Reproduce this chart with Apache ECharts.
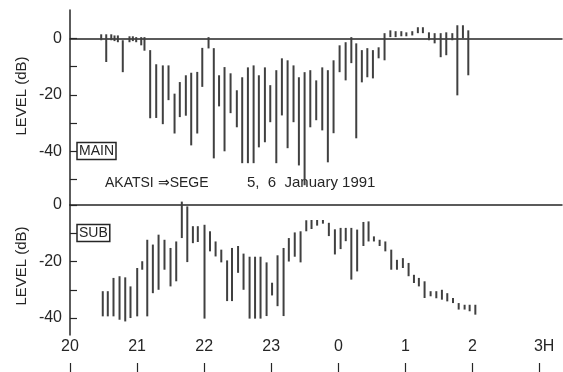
<!DOCTYPE html>
<html><head><meta charset="utf-8">
<script src="https://cdn.jsdelivr.net/npm/echarts@6/dist/echarts.min.js"></script>
<style>html,body{margin:0;padding:0;background:#fff}#c{width:563px;height:372px}</style>
</head><body><div id="c"></div>
<script>
// time in minutes after 20:00 (5 January 1991)
const hourTicks = [0, 60, 120, 180, 240, 300, 360, 420];
const hourLabels = ['20', '21', '22', '23', '0', '1', '2', '3H'];
const yTicksMain = [0, -10, -20, -30, -40, -50];
const yTicksSub = [0, -10, -20, -30, -40];
const yLabelValues = [0, -20, -40];

const mainTime = [27.9, 32.4, 36.9, 39.8, 42.8, 47.2, 53.2, 56.2, 59.2, 63.7, 66.6, 71.7, 77.1, 83.0, 88.1, 93.5, 98.2, 103.6, 108.4, 113.8, 118.3, 123.9, 128.6, 133.3, 138.2, 143.6, 149.2, 154.0, 159.1, 164.2, 168.9, 174.3, 179.1, 184.5, 189.5, 194.6, 199.9, 204.7, 209.8, 214.9, 220.2, 225.6, 230.6, 235.7, 241.1, 246.5, 251.6, 256.0, 261.0, 265.9, 270.9, 276.0, 281.3, 286.5, 291.2, 296.3, 300.8, 306.1, 311.1, 315.6, 321.0, 326.1, 331.5, 336.5, 341.9, 346.4, 351.4, 356.2];
const mainHigh = [1.4, 1.4, 1.4, 1.0, 1.0, -0.7, 0.7, 0.7, 0.4, 0.4, 0.4, -4.2, -9.2, -9.6, -9.6, -19.6, -15.5, -13.1, -12.2, -11.9, -3.4, 0.4, -3.5, -13.1, -10.2, -12.4, -18.4, -13.8, -10.3, -9.6, -13.1, -10.3, -16.6, -11.3, -7.1, -7.8, -9.6, -13.8, -12.0, -11.3, -14.9, -10.3, -11.3, -7.8, -2.5, -1.4, 0.4, -1.8, -4.2, -3.5, -4.2, -3.2, 1.8, 2.8, 2.5, 2.5, 2.1, 2.5, 3.9, 3.9, 2.1, 1.8, 1.8, 2.1, 1.8, 4.6, 4.6, 2.8];
const mainLow = [-0.7, -8.4, -0.7, -1.0, -1.4, -12.0, -1.4, -1.0, -1.4, -2.5, -4.4, -28.3, -28.2, -30.4, -21.9, -33.7, -27.9, -27.4, -37.9, -33.7, -17.2, -3.6, -42.5, -24.1, -40.0, -26.5, -31.5, -44.2, -44.2, -44.2, -38.6, -36.8, -29.7, -44.2, -27.3, -38.9, -29.7, -45.0, -52.0, -31.5, -29.0, -32.6, -43.9, -33.6, -12.0, -14.9, -8.8, -35.4, -15.6, -13.8, -14.2, -7.1, -7.8, 0.4, 0.4, 0.7, 0.7, 1.0, 1.8, 1.8, -0.7, -1.8, -6.7, -6.0, -0.7, -20.2, 0.0, -13.1];

const subTime = [29.3, 33.8, 38.9, 44.3, 49.4, 54.1, 60.1, 64.6, 69.1, 74.1, 79.2, 84.5, 89.9, 95.0, 100.0, 104.9, 109.9, 114.3, 120.3, 125.2, 130.2, 135.3, 140.5, 144.9, 150.3, 155.2, 160.6, 165.5, 170.4, 175.8, 180.7, 185.6, 191.0, 195.7, 201.0, 206.2, 211.3, 216.0, 221.0, 226.2, 231.5, 236.9, 242.0, 246.6, 251.6, 256.8, 262.4, 267.0, 271.8, 276.9, 282.0, 287.3, 292.4, 297.7, 302.8, 307.6, 312.0, 317.1, 322.5, 327.6, 332.6, 337.4, 342.5, 347.6, 352.9, 357.4, 362.5];
const subHigh = [-30.5, -30.5, -25.8, -25.2, -25.6, -28.8, -22.3, -19.9, -12.3, -14.0, -10.5, -12.3, -15.2, -12.9, 1.2, -0.5, -7.5, -7.5, -7.0, -9.3, -12.9, -15.8, -19.6, -15.2, -14.5, -17.2, -18.3, -18.3, -18.3, -20.3, -27.5, -17.8, -15.2, -11.7, -9.7, -9.3, -5.4, -5.3, -5.3, -5.3, -6.3, -8.6, -8.1, -8.1, -8.1, -8.7, -6.0, -5.8, -11.1, -12.3, -12.9, -15.8, -19.4, -18.8, -20.5, -24.7, -25.8, -27.0, -30.5, -30.5, -30.0, -31.2, -32.9, -34.7, -35.3, -35.3, -35.3];
const subLow = [-39.4, -39.4, -39.4, -40.6, -41.2, -40.0, -39.4, -22.9, -39.4, -31.2, -30.0, -22.9, -28.8, -27.0, -11.7, -20.2, -13.5, -13.1, -40.2, -16.4, -18.2, -20.3, -34.0, -34.0, -24.0, -30.0, -40.2, -40.2, -40.2, -39.3, -32.0, -35.8, -39.3, -20.0, -18.3, -20.3, -9.3, -8.5, -7.3, -6.6, -11.0, -17.5, -15.6, -12.8, -26.4, -23.5, -14.5, -12.9, -12.9, -14.5, -16.4, -22.9, -22.9, -22.3, -25.2, -27.6, -28.8, -32.9, -32.3, -33.0, -33.5, -34.1, -34.7, -37.0, -37.0, -37.6, -38.8];

const FONT = "'Liberation Sans', Arial, sans-serif";
const INK = '#262626';

function zip3(t, h, l) { return t.map((v, i) => [v, h[i], l[i]]); }

function renderBar(params, api) {
  const p1 = api.coord([api.value(0), api.value(1)]);
  const p2 = api.coord([api.value(0), api.value(2)]);
  return {
    type: 'line',
    shape: { x1: p1[0], y1: p1[1], x2: p2[0], y2: p2[1] },
    style: { stroke: '#404040', lineWidth: 2 }
  };
}

const hourFmt = v => { const i = hourTicks.indexOf(v); return i < 0 ? '' : (v === 420 ? '{h|3H}' : hourLabels[i]); };

const chart = echarts.init(document.getElementById('c'), null, { renderer: 'canvas' });
chart.setOption({
  animation: false,
  backgroundColor: '#fff',
  grid: [
    { left: 70, top: 10, width: 492, height: 195 },
    { left: 70, top: 205, width: 492, height: 130 }
  ],
  xAxis: [
    { gridIndex: 0, type: 'value', min: 0, max: 440,
      axisLine: { onZero: true, lineStyle: { color: INK, width: 1.5 } },
      axisTick: { show: false }, axisLabel: { show: false }, splitLine: { show: false } },
    { gridIndex: 1, type: 'value', min: 0, max: 440,
      axisLine: { onZero: true, lineStyle: { color: INK, width: 1.5 } },
      axisTick: { show: false }, axisLabel: { show: false }, splitLine: { show: false } },
    { gridIndex: 1, type: 'value', min: 0, max: 440, position: 'bottom',
      axisLine: { show: false, onZero: false }, axisTick: { show: false },
      splitLine: { show: false },
      axisLabel: { customValues: hourTicks, formatter: hourFmt, margin: 4,
        color: INK, fontFamily: FONT, fontSize: 16,
        rich: { h: { fontFamily: FONT, fontSize: 16, color: INK, padding: [0, 0, 0, 9] } } } },
    { gridIndex: 1, type: 'value', min: 0, max: 440, position: 'bottom', offset: 38,
      axisLine: { show: false, onZero: false },
      axisTick: { show: true, inside: true, length: 10, customValues: hourTicks, lineStyle: { color: INK, width: 1.2 } },
      axisLabel: { show: false }, splitLine: { show: false } }
  ],
  yAxis: [
    { gridIndex: 0, type: 'value', min: -59, max: 10,
      axisLine: { show: true, lineStyle: { color: INK, width: 1.5 } },
      axisTick: { show: true, inside: true, length: 7, customValues: yTicksMain, lineStyle: { color: INK, width: 1.2 } },
      axisLabel: { customValues: yLabelValues, margin: 8, color: INK, fontFamily: FONT, fontSize: 16 },
      splitLine: { show: false } },
    { gridIndex: 1, type: 'value', min: -46, max: 0,
      axisLine: { show: true, lineStyle: { color: INK, width: 1.5 } },
      axisTick: { show: true, inside: true, length: 7, customValues: yTicksSub, lineStyle: { color: INK, width: 1.2 } },
      axisLabel: { customValues: yLabelValues, margin: 8, color: INK, fontFamily: FONT, fontSize: 16 },
      splitLine: { show: false } }
  ],
  series: [
    { type: 'custom', xAxisIndex: 0, yAxisIndex: 0, renderItem: renderBar,
      data: zip3(mainTime, mainHigh, mainLow), encode: { x: 0, y: [1, 2] }, silent: true },
    { type: 'custom', xAxisIndex: 1, yAxisIndex: 1, renderItem: renderBar,
      data: zip3(subTime, subHigh, subLow), encode: { x: 0, y: [1, 2] }, silent: true }
  ],
  graphic: [
    { type: 'text', x: 22, y: 96, rotation: Math.PI / 2, silent: true,
      style: { text: 'LEVEL (dB)', font: '15px ' + FONT, fill: INK, align: 'center', verticalAlign: 'middle' } },
    { type: 'text', x: 22, y: 266, rotation: Math.PI / 2, silent: true,
      style: { text: 'LEVEL (dB)', font: '15px ' + FONT, fill: INK, align: 'center', verticalAlign: 'middle' } },
    { type: 'text', x: 77, y: 151, silent: true,
      style: { text: 'MAIN', font: '14px ' + FONT, fill: INK, verticalAlign: 'middle',
        borderColor: INK, borderWidth: 1.5, padding: [2, 2, 1, 2] } },
    { type: 'text', x: 77, y: 233, silent: true,
      style: { text: 'SUB', font: '14px ' + FONT, fill: INK, verticalAlign: 'middle',
        borderColor: INK, borderWidth: 1.5, padding: [2, 2, 1, 2] } },
    { type: 'text', x: 105, y: 183, silent: true,
      style: { text: 'AKATSI \u21D2SEGE', font: '14px ' + FONT, fill: INK, verticalAlign: 'middle' } },
    { type: 'text', x: 247, y: 183, silent: true,
      style: { text: '5,  6  January 1991', font: '15px ' + FONT, fill: INK, verticalAlign: 'middle' } }
  ]
});
</script>
</body></html>
